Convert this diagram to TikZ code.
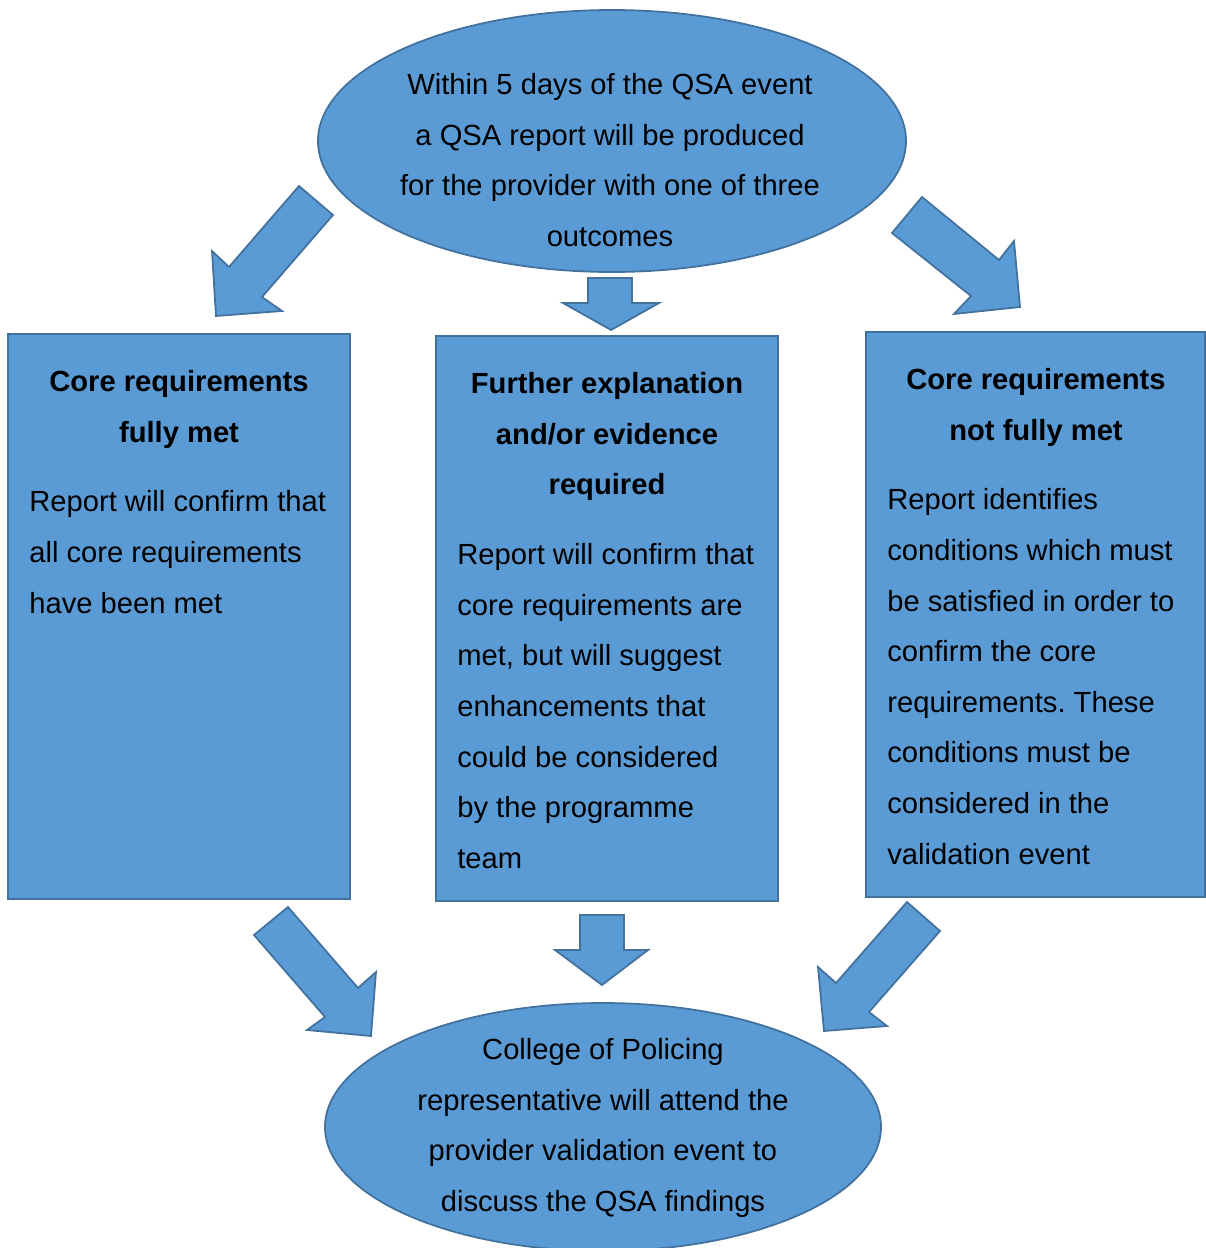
\documentclass[tikz,border=0pt]{standalone}
\usepackage{fontspec}
\setmainfont{Liberation Sans}
\usepackage{tikz}
\frenchspacing

\definecolor{qsafill}{HTML}{5B9BD5}
\definecolor{qsaline}{HTML}{41719C}

\begin{document}
\begin{tikzpicture}[x=0.02cm,y=-0.02cm,
  bluefill/.style={fill=qsafill,draw=qsaline,line width=1pt},
  txt/.style={inner sep=0pt,font=\fontsize{16.6}{28.8}\selectfont},
  head/.style={txt,align=center,font=\fontsize{16.6}{28.8}\selectfont\bfseries},
  box/.style={bluefill,rectangle,minimum width=6.84cm,minimum height=11.3cm,inner sep=0pt},
  oval/.style={bluefill},
  blockarrow/.style={bluefill,line join=miter}]
\useasboundingbox (0,0) rectangle (1206,1248);

% ovals
\draw [oval] (612,141) ellipse [x radius=294, y radius=131];
\draw [oval] (603,1127) ellipse [x radius=278, y radius=124];
\node [txt,align=center] (start) at (610,160) {Within 5 days of the QSA event\\a QSA report will be produced\\for the provider with one of three\\outcomes};
\node [txt,align=center] (end) at (603,1128) {College of Policing\\representative will attend the\\provider validation event to\\discuss the QSA findings};

% boxes
\node [box] (met) at (179,616.5) {};
\node [box] (further) at (607,618.5) {};
\node [box,minimum width=6.78cm] (notmet) at (1035.5,614.5) {};

\node [head] (mettitle) at (179,409.5) {Core requirements\\fully met};
\node [txt,align=left,anchor=west] (metbody) at (29,552) {Report will confirm that\\all core requirements\\have been met};

\node [head] (furthertitle) at (607,436.5) {Further explanation\\and/or evidence\\required};
\node [txt,align=left,anchor=west] (furtherbody) at (457,706) {Report will confirm that\\core requirements are\\met, but will suggest\\enhancements that\\could be considered\\by the programme\\team};

\node [head] (notmettitle) at (1036,407.5) {Core requirements\\not fully met};
\node [txt,align=left,anchor=west] (notmetbody) at (887,676.5) {Report identifies\\conditions which must\\be satisfied in order to\\confirm the core\\requirements. These\\conditions must be\\considered in the\\validation event};

% block arrows, top row
\draw [blockarrow] (299,186) -- (333,215) -- (262,297) -- (282,311) -- (216,316) -- (212,251) -- (229,267) -- cycle;
\draw [blockarrow] (588,278) -- (632,278) -- (632,303) -- (659,303) -- (611,330) -- (563,303) -- (588,303) -- cycle;
\draw [blockarrow] (922,197) -- (999,260) -- (1014,241) -- (1020,307) -- (954,314) -- (971,296) -- (892,233) -- cycle;

% block arrows, bottom row
\draw [blockarrow] (288,907) -- (358,988) -- (376,972) -- (371,1036) -- (307,1030) -- (325,1017) -- (254,935) -- cycle;
\draw [blockarrow] (580,915) -- (624,915) -- (624,950) -- (648,950) -- (602,985) -- (555,950) -- (580,950) -- cycle;
\draw [blockarrow] (907,902) -- (940,931) -- (869,1012) -- (887,1026) -- (824,1031) -- (818,967) -- (836,983) -- cycle;
\end{tikzpicture}
\end{document}
